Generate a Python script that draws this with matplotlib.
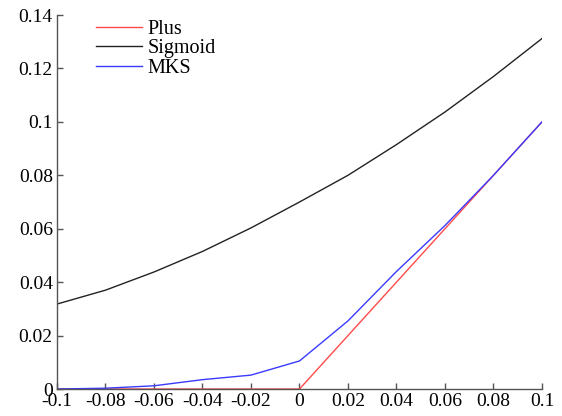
import matplotlib
matplotlib.use("Agg")
import matplotlib.pyplot as plt

x = [-0.1, -0.08, -0.06, -0.04, -0.02, 0.0, 0.02, 0.04, 0.06, 0.08, 0.1]
plus = [0, 0, 0, 0, 0, 0, 0.02, 0.04, 0.06, 0.08, 0.1]
sigmoid = [0.0318, 0.037, 0.0438, 0.0515, 0.0603, 0.0700, 0.0800, 0.0915, 0.1037, 0.1170, 0.1312]
mks = [0.0, 0.0003, 0.0012, 0.0035, 0.0052, 0.0105, 0.0255, 0.0440, 0.0612, 0.0800, 0.1000]
xticks = [-0.1, -0.08, -0.06, -0.04, -0.02, 0, 0.02, 0.04, 0.06, 0.08, 0.1]
xticklabels = ["-0.1", "-0.08", "-0.06", "-0.04", "-0.02", "0", "0.02", "0.04", "0.06", "0.08", "0.1"]
yticks = [0, 0.02, 0.04, 0.06, 0.08, 0.1, 0.12, 0.14]
yticklabels = ["0", "0.02", "0.04", "0.06", "0.08", "0.1", "0.12", "0.14"]

plt.rcParams['font.family'] = ['Liberation Serif', 'DejaVu Serif']
fig = plt.figure(figsize=(5.62, 4.16), dpi=100)
ax = fig.add_axes([0.1014, 0.0649, 0.863, 0.899])
ax.plot(x, plus, color='#ff4a4a', lw=1.0, label='Plus')
ax.plot(x, sigmoid, color='#222222', lw=1.0, label='Sigmoid')
ax.plot(x, mks, color='#3a3aff', lw=1.0, label='MKS')
ax.set_xlim(-0.1, 0.1)
ax.set_ylim(0, 0.14)
ax.set_xticks(xticks)
ax.set_xticklabels(xticklabels)
ax.set_yticks(yticks)
ax.set_yticklabels(yticklabels)
for s in ['top', 'right']:
    ax.spines[s].set_visible(False)
for s in ['left', 'bottom']:
    ax.spines[s].set_color('#555555')
    ax.spines[s].set_linewidth(1.0)
ax.tick_params(direction='in', length=4, width=1, color='#555555', labelsize=14, pad=3)
ax.legend(loc='upper left', bbox_to_anchor=(0.08, 0.988), frameon=False, fontsize=14.5,
          handlelength=2.3, handletextpad=0.26, labelspacing=0.02, borderaxespad=0,
          borderpad=0)
fig.savefig('out.png', dpi=100)
